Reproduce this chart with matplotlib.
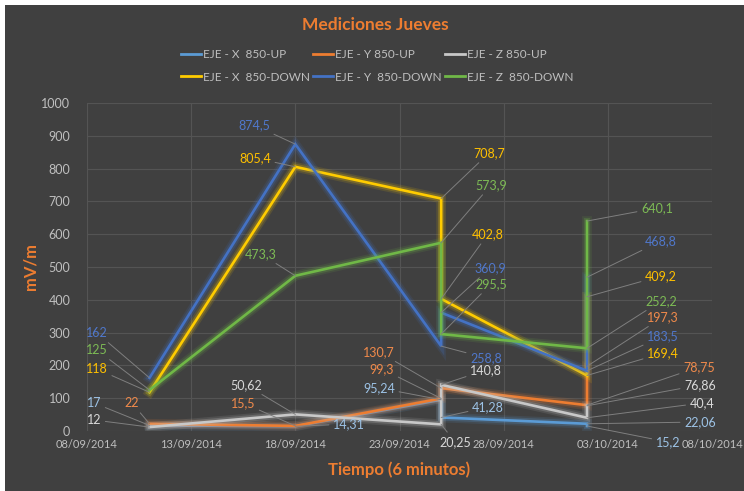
import numpy as np
import pandas as pd
import matplotlib
matplotlib.use("Agg")
import matplotlib.pyplot as plt
import matplotlib.dates as mdates
import matplotlib.patheffects as pe
from matplotlib.patches import Rectangle

plt.rcParams['font.family'] = ['Lato', 'DejaVu Sans']

# fechas de medicion (jueves), dos tomas el 25/09 y el 02/10
fechas = pd.to_datetime(["2014-09-11", "2014-09-18", "2014-09-25",
                         "2014-09-25", "2014-10-02", "2014-10-02"])

series_names = ["EJE - X  850-UP", "EJE - Y 850-UP", "EJE - Z 850-UP",
                "EJE - X  850-DOWN", "EJE - Y  850-DOWN", "EJE - Z  850-DOWN"]

x_up = [17, 14.31, 95.24, 41.28, 22.06, 15.2]
y_up = [22, 15.5, 99.3, 130.7, 78.75, 197.3]
z_up = [12, 50.62, 20.25, 140.8, 40.4, 76.86]
x_down = [118, 805.4, 708.7, 402.8, 169.4, 409.2]
y_down = [162, 874.5, 258.8, 360.9, 183.5, 468.8]
z_down = [125, 473.3, 573.9, 295.5, 252.2, 640.1]
valores = [x_up, y_up, z_up, x_down, y_down, z_down]

line_colors = ['#5B9BD5', '#ED7D31', '#C8C8C8', '#FFCC00', '#4472C4', '#70B847']
label_colors = ['#9DC3E6', '#F08A4B', '#D9D9D9', '#FFC000', '#5078CC', '#7DBB55']

# posicion de las etiquetas (pixeles de la imagen 744x491)
label_pos = [
    [(94, 403), (349, 424), (379, 388), (488, 407), (700, 422), (668, 442)],
    [(132, 403), (243, 403), (382, 369), (379, 352), (699, 367), (663, 317)],
    [(94, 420), (246, 385), (455, 442), (486, 370), (702, 403), (700, 385)],
    [(97, 369), (255, 158), (489, 153), (488, 234), (663, 353), (661, 276)],
    [(97, 333), (254, 125), (486, 358), (490, 268), (663, 336), (661, 241)],
    [(97, 350), (261, 254), (491, 185), (491, 284), (661, 301), (657, 208)],
]

W, H = 744, 491
bg = '#404040'
fig = plt.figure(figsize=(W / 100, H / 100), dpi=100, facecolor='white')
fig.add_artist(Rectangle((5 / W, 0), 1, 1 - 5 / H, transform=fig.transFigure,
                         facecolor=bg, edgecolor='none', zorder=-10))
ax = fig.add_axes([87 / W, 1 - 431 / H, 625 / W, 328 / H])
ax.set_facecolor(bg)

xn = mdates.date2num(fechas)
handles = []
for i in range(6):
    ln, = ax.plot(xn, valores[i], color=line_colors[i], lw=1.9, zorder=3 + i,
                  solid_joinstyle='miter', label=series_names[i])
    ln.set_path_effects([pe.Stroke(linewidth=7, foreground=line_colors[i], alpha=0.12),
                         pe.Stroke(linewidth=4.5, foreground=line_colors[i], alpha=0.22),
                         pe.Normal()])
    handles.append(ln)
    for j, v in enumerate(valores[i]):
        px, py = label_pos[i][j]
        txt = f"{v:g}".replace('.', ',')
        ax.annotate(txt, xy=(xn[j], v), xycoords='data',
                    xytext=(px / W, 1 - py / H), textcoords='figure fraction',
                    ha='center', va='center', fontsize=9, color=label_colors[i],
                    annotation_clip=False, zorder=20,
                    arrowprops=dict(arrowstyle='-', color='#7F7F7F', lw=0.7,
                                    shrinkA=1, shrinkB=0))

ticks = mdates.date2num(pd.date_range("2014-09-08", "2014-10-08", freq="5D"))
ax.set_xlim(ticks[0], ticks[-1])
ax.set_xticks(ticks)
ax.xaxis.set_major_formatter(mdates.DateFormatter('%d/%m/%Y'))
ax.set_ylim(0, 1000)
ax.set_yticks(np.arange(0, 1001, 100))
ax.grid(True, color='#545454', lw=0.8)
ax.set_axisbelow(True)
for s in ax.spines.values():
    s.set_visible(False)
ax.tick_params(length=0, colors='#BFBFBF', labelsize=8)
ax.tick_params(axis='y', labelsize=9, pad=12)
ax.tick_params(axis='x', pad=6)

ax.set_ylabel('mV/m', color='#ED7D31', fontsize=12, fontweight='bold', labelpad=2)
ax.set_xlabel('Tiempo (6 minutos)', color='#ED7D31', fontsize=12,
              fontweight='bold', labelpad=8)
fig.text(0.505, 1 - 25 / H, 'Mediciones Jueves', ha='center', va='center',
         color='#ED7D31', fontsize=12.5, fontweight='bold')

order = [0, 3, 1, 4, 2, 5]
leg = fig.legend([handles[k] for k in order], [series_names[k] for k in order],
                 ncol=3, loc='center', bbox_to_anchor=(0.507, 1 - 66 / H),
                 frameon=False, fontsize=8.5, labelcolor='#BFBFBF',
                 handlelength=1.7, handletextpad=0.15, columnspacing=0.3,
                 labelspacing=0.95)
for h in leg.legend_handles:
    h.set_path_effects([])
    h.set_linewidth(2)

fig.savefig('out.png', dpi=100, facecolor=fig.get_facecolor())
